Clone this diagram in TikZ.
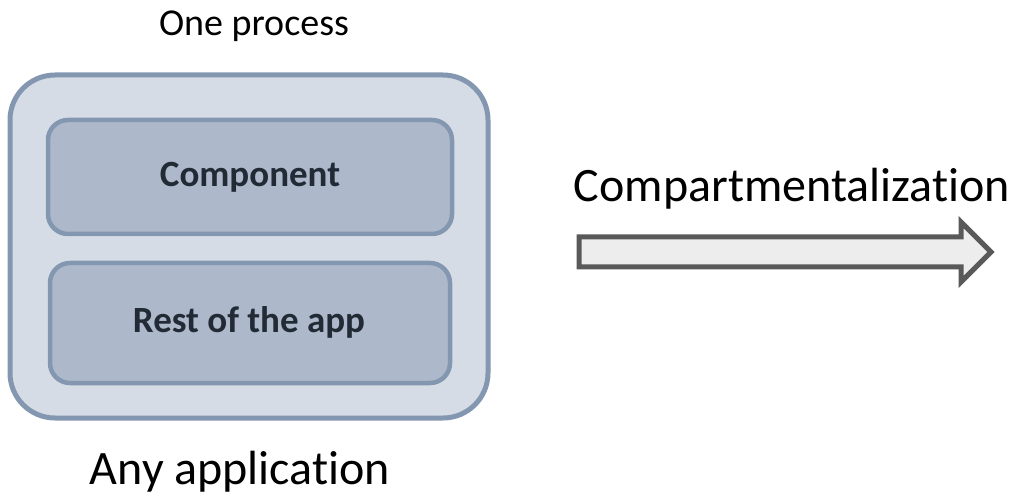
\documentclass[tikz,border=0pt]{standalone}
\usepackage{fontspec}
\setmainfont[Ligatures={NoCommon}]{Carlito}
\begin{document}
\begin{tikzpicture}[x=1pt,y=-1pt,
  outerbox/.style={draw=boxline, fill=outerfill, line width=5pt, rounded corners=45pt},
  innerbox/.style={draw=boxline, fill=innerfill, line width=4.5pt, rounded corners=20pt},
  partlabel/.style={anchor=base, inner sep=0pt, text=labeltext, font=\fontsize{37}{40}\selectfont\bfseries},
  caption/.style={anchor=base, inner sep=0pt, text=black},
  blockarrow/.style={draw=arrowline, fill=arrowfill, line width=5pt, line join=miter}
]
\definecolor{boxline}{HTML}{8497B0}
\definecolor{outerfill}{HTML}{D6DCE5}
\definecolor{innerfill}{HTML}{ADB9CA}
\definecolor{labeltext}{HTML}{222A35}
\definecolor{arrowline}{HTML}{595959}
\definecolor{arrowfill}{HTML}{EDEDED}
\useasboundingbox (0,0) rectangle (1018,497);

% the process box and its two parts
\draw[outerbox] (10,75) rectangle (488,418);
\node[innerbox, minimum width=404pt, minimum height=114pt] (comp) at (250,177) {};
\node[innerbox, minimum width=400pt, minimum height=120pt] (rest) at (250,323) {};
\node[partlabel] (comptext) at (250,187) {Component};
\node[partlabel] (resttext) at (249,332) {Rest of the app};

% captions
\node[caption, font=\fontsize{38}{40}\selectfont] (proc) at (254,36) {One process};
\node[caption, font=\fontsize{48}{50}\selectfont] (app) at (240,484) {Any application};
\node[caption, font=\fontsize{48}{50}\selectfont] (compart) at (792,202) {Compartmentalization};

% block arrow
\draw[blockarrow] (579,237) -- (961,237) -- (961,222) -- (991,252) -- (961,282)
  -- (961,267) -- (579,267) -- cycle;
\end{tikzpicture}
\end{document}
